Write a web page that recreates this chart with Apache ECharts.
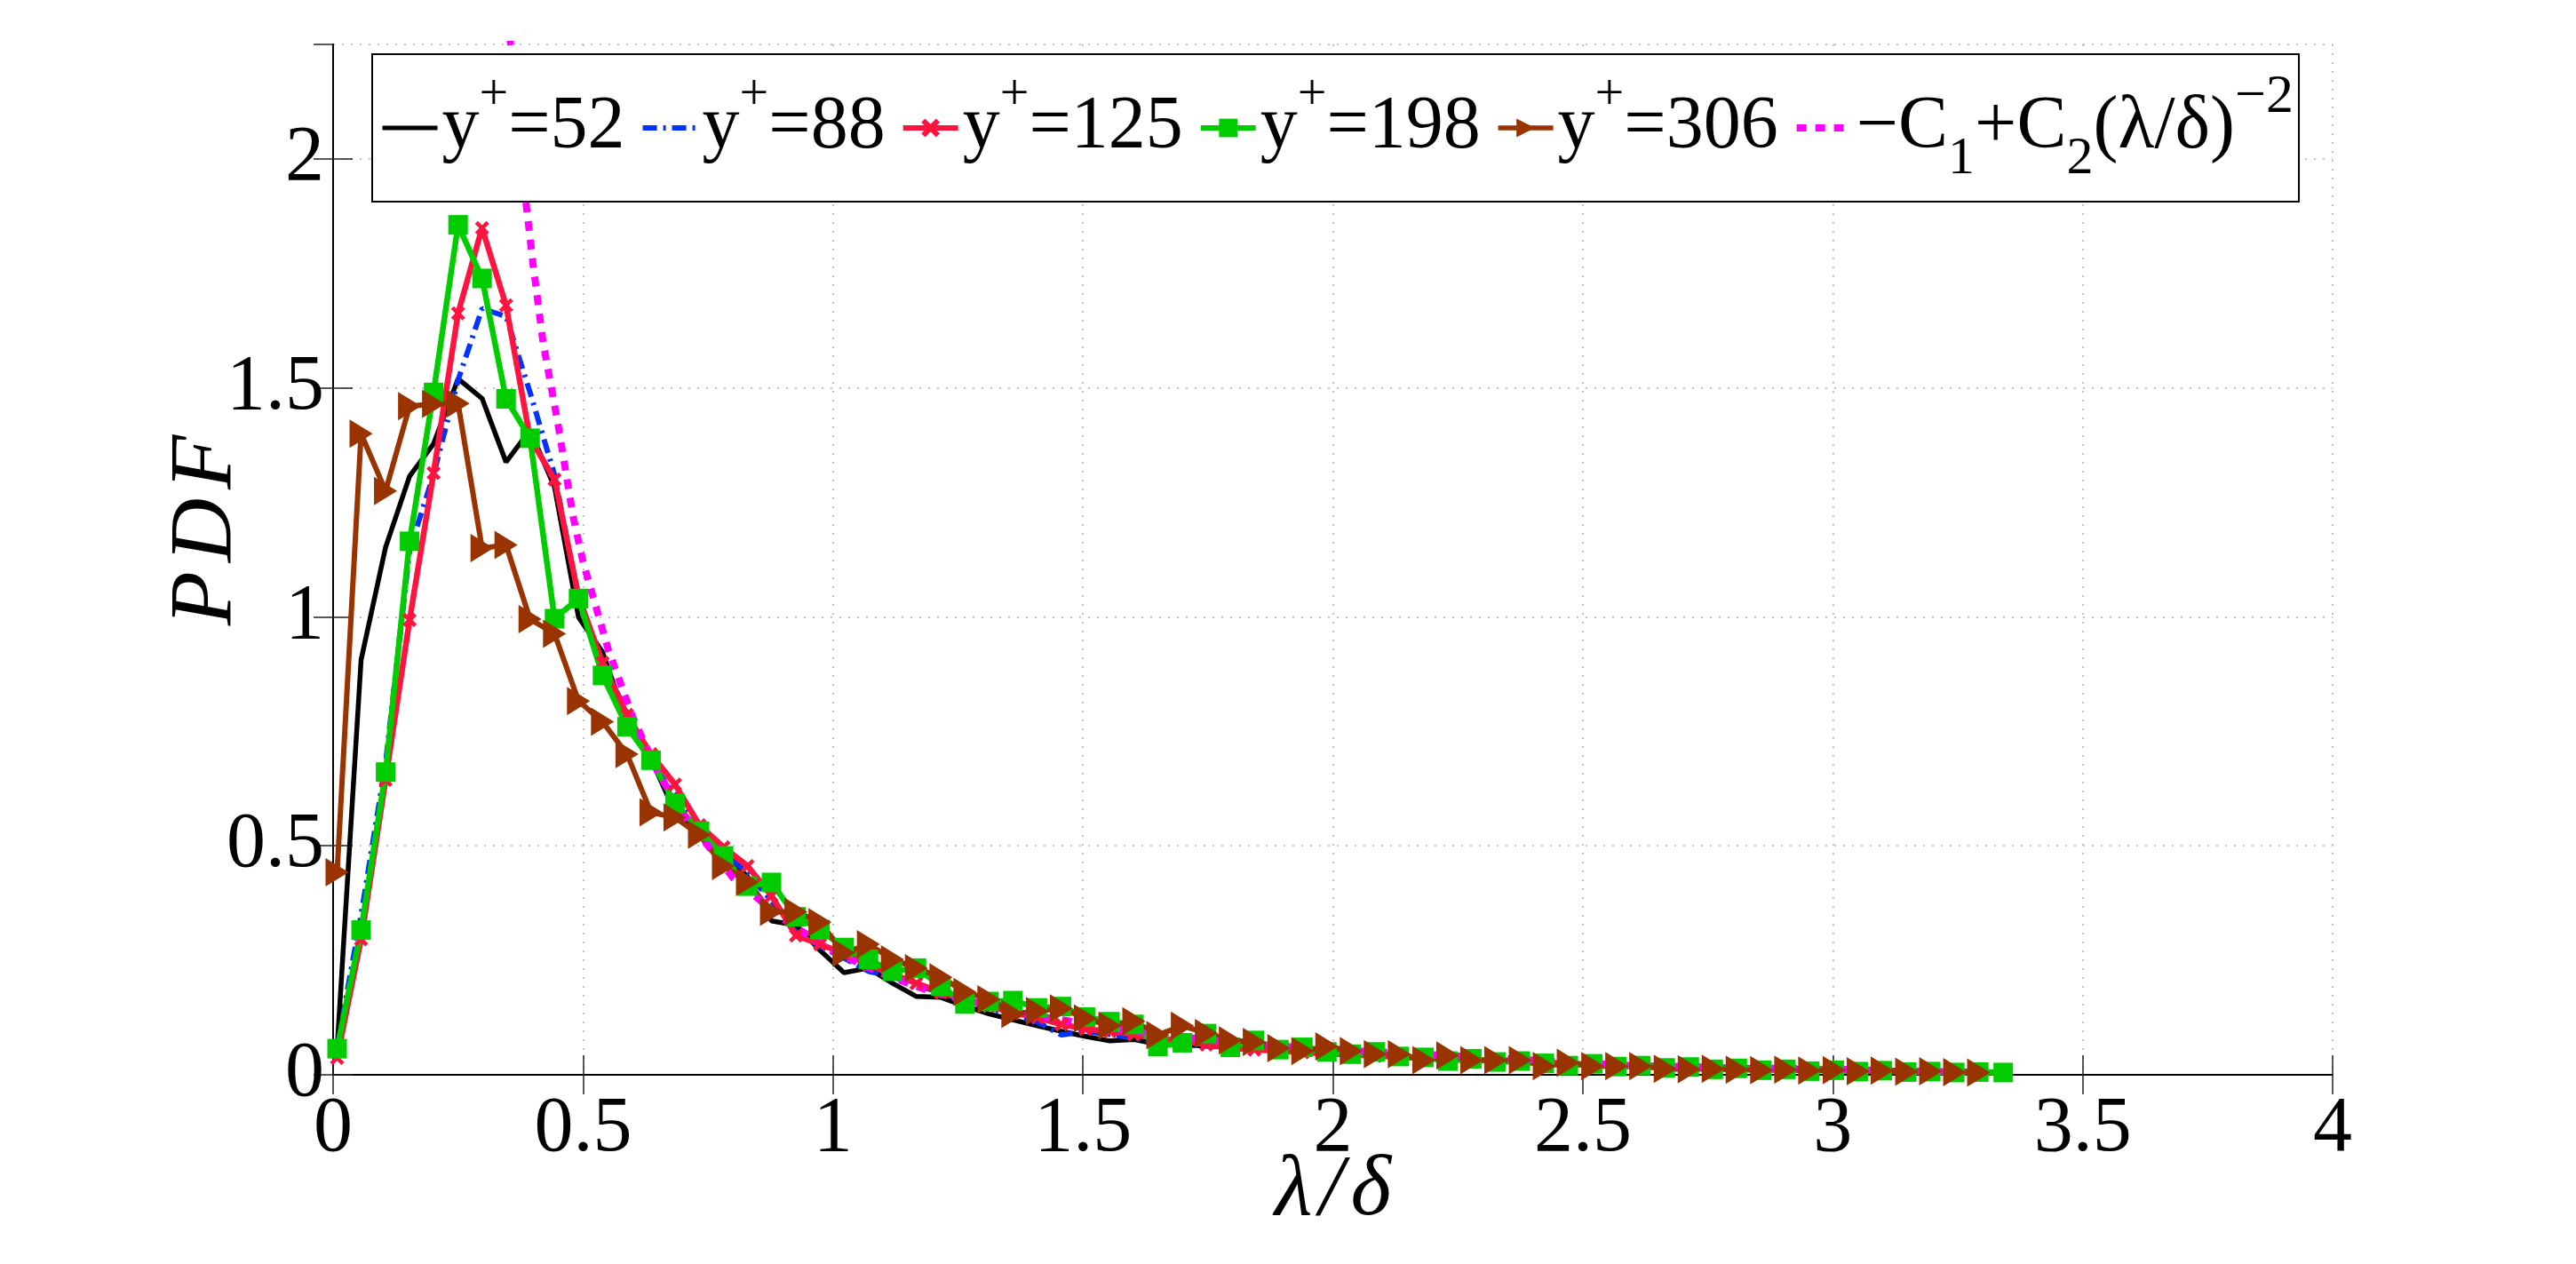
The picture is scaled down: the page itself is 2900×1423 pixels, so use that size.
<!DOCTYPE html>
<html>
<head>
<meta charset="utf-8">
<script src="https://cdn.jsdelivr.net/npm/echarts@6/dist/echarts.min.js"></script>
<style>
  html, body { margin: 0; padding: 0; background: #fff; }
  #chart { width: 2900px; height: 1423px; }
</style>
</head>
<body>
<div id="chart"></div>
<script>
// lambda/delta positions of the bins
var xVals = [0.008, 0.056, 0.105, 0.153, 0.201, 0.250, 0.298, 0.346, 0.394, 0.443,
  0.491, 0.539, 0.588, 0.636, 0.684, 0.733, 0.781, 0.829, 0.877, 0.926,
  0.974, 1.022, 1.071, 1.119, 1.167, 1.216, 1.264, 1.312, 1.360, 1.409,
  1.457, 1.505, 1.554, 1.602, 1.650, 1.699, 1.747, 1.795, 1.843, 1.892,
  1.940, 1.988, 2.037, 2.085, 2.133, 2.182, 2.230, 2.278, 2.326, 2.375,
  2.423, 2.471, 2.520, 2.568, 2.616, 2.665, 2.713, 2.761, 2.809, 2.858,
  2.906, 2.954, 3.003, 3.051, 3.099, 3.148, 3.196, 3.244, 3.292, 3.341];

// PDF for each y+
var pdf52 = [0.057, 0.906, 1.152, 1.307, 1.378, 1.52, 1.477, 1.338, 1.408, 1.283,
  0.999, 0.923, 0.77, 0.69, 0.573, 0.53, 0.485, 0.433, 0.336, 0.327,
  0.272, 0.223, 0.233, 0.20, 0.171, 0.169, 0.15, 0.133, 0.12, 0.107,
  0.095, 0.084, 0.074, 0.077, 0.067, 0.065, 0.063, 0.06, 0.057, 0.054,
  0.05, 0.047, 0.045, 0.042, 0.04, 0.037, 0.035, 0.033, 0.031, 0.029,
  0.027, 0.025, 0.023, 0.022, 0.021, 0.02, 0.018, 0.017, 0.016, 0.015,
  0.014, 0.013, 0.012, 0.011, 0.010, 0.009, 0.008, 0.008, 0.007, 0.006];
var pdf88 = [0.06, 0.349, 0.68, 1.146, 1.311, 1.517, 1.673, 1.656, 1.49, 1.31,
  1.04, 0.90, 0.79, 0.68, 0.613, 0.54, 0.49, 0.44, 0.38, 0.31,
  0.28, 0.255, 0.226, 0.215, 0.195, 0.18, 0.16, 0.145, 0.13, 0.115,
  0.087, 0.095, 0.088, 0.08, 0.072, 0.068, 0.063, 0.06, 0.056, 0.053,
  0.05, 0.048, 0.045, 0.043, 0.04, 0.038, 0.035, 0.033, 0.031, 0.029,
  0.027, 0.025, 0.024, 0.022, 0.021, 0.019, 0.018, 0.017, 0.016, 0.015,
  0.014, 0.013, 0.012, 0.011, 0.010, 0.009, 0.008, 0.007, 0.007, 0.006];
var pdf125 = [0.037, 0.296, 0.644, 0.993, 1.314, 1.663, 1.849, 1.68, 1.39, 1.30,
  1.045, 0.90, 0.786, 0.70, 0.634, 0.545, 0.497, 0.456, 0.391, 0.304,
  0.285, 0.265, 0.24, 0.22, 0.20, 0.18, 0.165, 0.15, 0.135, 0.125,
  0.11, 0.10, 0.095, 0.088, 0.08, 0.074, 0.066, 0.058, 0.055, 0.052,
  0.049, 0.046, 0.044, 0.041, 0.039, 0.036, 0.034, 0.032, 0.030, 0.028,
  0.026, 0.024, 0.023, 0.021, 0.020, 0.019, 0.017, 0.016, 0.015, 0.014,
  0.013, 0.012, 0.011, 0.010, 0.009, 0.008, 0.008, 0.007, 0.006, 0.005];
var pdf198 = [0.057, 0.316, 0.661, 1.165, 1.49, 1.856, 1.739, 1.476, 1.39, 0.996,
  1.04, 0.872, 0.760, 0.687, 0.593, 0.532, 0.478, 0.412, 0.42, 0.345,
  0.317, 0.278, 0.252, 0.226, 0.233, 0.194, 0.155, 0.16, 0.162, 0.146,
  0.149, 0.126, 0.116, 0.11, 0.062, 0.07, 0.09, 0.06, 0.075, 0.055,
  0.06, 0.05, 0.045, 0.05, 0.04, 0.038, 0.03, 0.035, 0.028, 0.03,
  0.025, 0.02, 0.024, 0.018, 0.02, 0.015, 0.017, 0.012, 0.014, 0.01,
  0.012, 0.008, 0.01, 0.007, 0.009, 0.006, 0.007, 0.005, 0.006, 0.005];
var pdf306 = [0.442, 1.40, 1.275, 1.46, 1.465, 1.466, 1.15, 1.157, 0.995, 0.963,
  0.816, 0.771, 0.70, 0.573, 0.562, 0.524, 0.456, 0.421, 0.356, 0.356,
  0.333, 0.266, 0.285, 0.252, 0.233, 0.213, 0.181, 0.165, 0.133, 0.139,
  0.145, 0.123, 0.107, 0.117, 0.087, 0.107, 0.091, 0.075, 0.072, 0.058,
  0.052, 0.062, 0.052, 0.045, 0.045, 0.032, 0.042, 0.032, 0.032, 0.032,
  0.019, 0.026, 0.019, 0.019, 0.019, 0.013, 0.012, 0.013, 0.011, 0.010,
  0.011, 0.009, 0.010, 0.008, 0.009, 0.007, 0.008, 0.006, 0.005];

// -C1 + C2 (lambda/delta)^-2
var fitX = [0.35, 0.38, 0.40, 0.42, 0.45, 0.48, 0.50, 0.55, 0.60, 0.65, 0.70, 0.80,
  0.90, 1.0, 1.1, 1.2, 1.4, 1.6, 1.8, 2.0, 2.3, 2.6, 3.0, 3.3];
var fitY = [2.31, 1.96, 1.77, 1.60, 1.42, 1.22, 1.12, 0.93, 0.78, 0.66, 0.57, 0.43,
  0.34, 0.27, 0.22, 0.18, 0.13, 0.095, 0.07, 0.055, 0.038, 0.02, 0.012, 0.005];

var xTicks = [0, 4, 0.5];
var yTicks = [0, 2.25, 0.5];

var fontName = "'Liberation Serif', 'DejaVu Serif', 'Times New Roman', serif";

function pairs(xs, ys) {
  var out = [];
  for (var i = 0; i < ys.length; i++) {
    out.push([xs[i], ys[i]]);
  }
  return out;
}

var chart = echarts.init(document.getElementById('chart'));

var crossPath = 'path://M0,2 L2,0 L5,3 L8,0 L10,2 L7,5 L10,8 L8,10 L5,7 L2,10 L0,8 L3,5 Z';
var triPath = 'path://M0,0 L10,5 L0,10 Z';

// legend icons: no dot for the plain lines
var legendData = [
  { name: 'y+=52', itemStyle: { opacity: 0 }, lineStyle: { width: 5 } },
  { name: 'y+=88', itemStyle: { opacity: 0 }, lineStyle: { width: 6 } },
  { name: 'y+=125', lineStyle: { width: 6 } },
  { name: 'y+=198', lineStyle: { width: 6 } },
  { name: 'y+=306', lineStyle: { width: 5.5 } },
  { name: 'fit', itemStyle: { opacity: 0 }, lineStyle: { width: 8 } }
];

chart.setOption({
  backgroundColor: '#fff',
  animation: false,
  grid: {
    left: 375,
    right: 274,
    top: 50,
    bottom: 213,
    outerBoundsMode: 'none'
  },
  legend: {
    data: legendData,
    left: 419,
    top: 61,
    orient: 'horizontal',
    padding: [18, 6, 18, 9],
    itemGap: 17,
    itemWidth: 62,
    itemHeight: 26,
    borderColor: '#000',
    borderWidth: 2,
    backgroundColor: '#fff',
    formatter: function (name) {
      if (name === 'fit') {
        return '{t|\u2212C}{sub|1}{t|+C}{sub|2}{t|(\u03bb/\u03b4)}{sup2|\u22122}';
      }
      return '{t|y}{sup|+}{t|=' + name.split('=')[1] + '}';
    },
    textStyle: {
      color: '#000',
      fontFamily: fontName,
      rich: {
        t: { fontSize: 84, fontFamily: fontName, lineHeight: 130, color: '#000' },
        sup: { fontSize: 58, fontFamily: fontName, lineHeight: 72, verticalAlign: 'top', color: '#000' },
        sub: { fontSize: 60, fontFamily: fontName, lineHeight: 58, verticalAlign: 'bottom', color: '#000' },
        sup2: { fontSize: 62, fontFamily: fontName, lineHeight: 36, verticalAlign: 'top', color: '#000' }
      }
    }
  },
  xAxis: [{
    type: 'value',
    position: 'bottom',
    min: xTicks[0],
    max: xTicks[1],
    interval: xTicks[2],
    name: '{l|\u03bb}{l|/}{l|\u03b4}',
    nameLocation: 'middle',
    nameGap: 82,
    nameMoveOverlap: false,
    nameTextStyle: {
      fontFamily: fontName, fontStyle: 'italic', fontSize: 98, color: '#000',
      rich: {
        l: { fontFamily: fontName, fontStyle: 'italic', fontSize: 98, color: '#000', padding: [0, 4, 0, 4] }
      }
    },
    axisLine: { show: true, lineStyle: { color: '#000', width: 2 } },
    axisTick: { show: true, inside: true, length: 22, lineStyle: { color: '#222', width: 1.5 } },
    axisLabel: { color: '#000', fontFamily: fontName, fontSize: 88, margin: 18 },
    splitLine: { show: true, lineStyle: { color: '#b0b0b0', width: 1.5, type: [2, 8] } }
  }, {
    type: 'value',
    position: 'top',
    min: xTicks[0],
    max: xTicks[1],
    interval: xTicks[2],
    axisLine: { show: true, lineStyle: { color: '#000', width: 2 } },
    axisTick: { show: true, inside: true, length: 22, lineStyle: { color: '#222', width: 1.5 } },
    axisLabel: { show: false },
    splitLine: { show: false }
  }],
  yAxis: [{
    type: 'value',
    position: 'left',
    min: yTicks[0],
    max: yTicks[1],
    interval: yTicks[2],
    name: '{l|P}{l|D}{l|F}',
    nameLocation: 'middle',
    nameGap: 92,
    nameMoveOverlap: false,
    nameTextStyle: {
      fontFamily: fontName, fontStyle: 'italic', fontSize: 100, color: '#000', padding: [0, 0, 0, 66],
      rich: {
        l: { fontFamily: fontName, fontStyle: 'italic', fontSize: 100, color: '#000', padding: [0, 5, 0, 5] }
      }
    },
    axisLine: { show: true, lineStyle: { color: '#000', width: 2 } },
    axisTick: { show: true, inside: true, length: 22, lineStyle: { color: '#222', width: 1.5 } },
    axisLabel: { color: '#000', fontFamily: fontName, fontSize: 88, margin: 10, showMaxLabel: false },
    splitLine: { show: true, lineStyle: { color: '#b0b0b0', width: 1.5, type: [2, 8] } }
  }, {
    type: 'value',
    position: 'right',
    min: yTicks[0],
    max: yTicks[1],
    interval: yTicks[2],
    axisLine: { show: true, lineStyle: { color: '#000', width: 2 } },
    axisTick: { show: true, inside: true, length: 22, lineStyle: { color: '#222', width: 1.5 } },
    axisLabel: { show: false },
    splitLine: { show: false }
  }],
  series: [{
    name: 'y+=52',
    type: 'line',
    data: pairs(xVals, pdf52),
    symbol: 'none',
    itemStyle: { color: '#000' },
    lineStyle: { color: '#000', width: 5.5 }
  }, {
    name: 'y+=88',
    type: 'line',
    data: pairs(xVals, pdf88),
    symbol: 'none',
    itemStyle: { color: '#0033ff' },
    lineStyle: { color: '#0033ff', width: 6, type: [16, 7, 3, 7] }
  }, {
    name: 'y+=125',
    type: 'line',
    data: pairs(xVals, pdf125),
    symbol: crossPath,
    symbolSize: 16,
    itemStyle: { color: '#ff1440' },
    lineStyle: { color: '#ff1440', width: 6.5 }
  }, {
    name: 'y+=198',
    type: 'line',
    data: pairs(xVals, pdf198),
    symbol: 'rect',
    symbolSize: 22,
    itemStyle: { color: '#00cc00' },
    lineStyle: { color: '#00cc00', width: 6.5 }
  }, {
    name: 'y+=306',
    type: 'line',
    data: pairs(xVals, pdf306),
    symbol: triPath,
    symbolSize: [26, 32],
    itemStyle: { color: '#993300' },
    lineStyle: { color: '#993300', width: 6 }
  }, {
    name: 'fit',
    type: 'line',
    data: pairs(fitX, fitY),
    symbol: 'none',
    itemStyle: { color: '#ff00ff' },
    lineStyle: { color: '#ff00ff', width: 8, type: [11, 10] }
  }]
});
</script>
</body>
</html>
